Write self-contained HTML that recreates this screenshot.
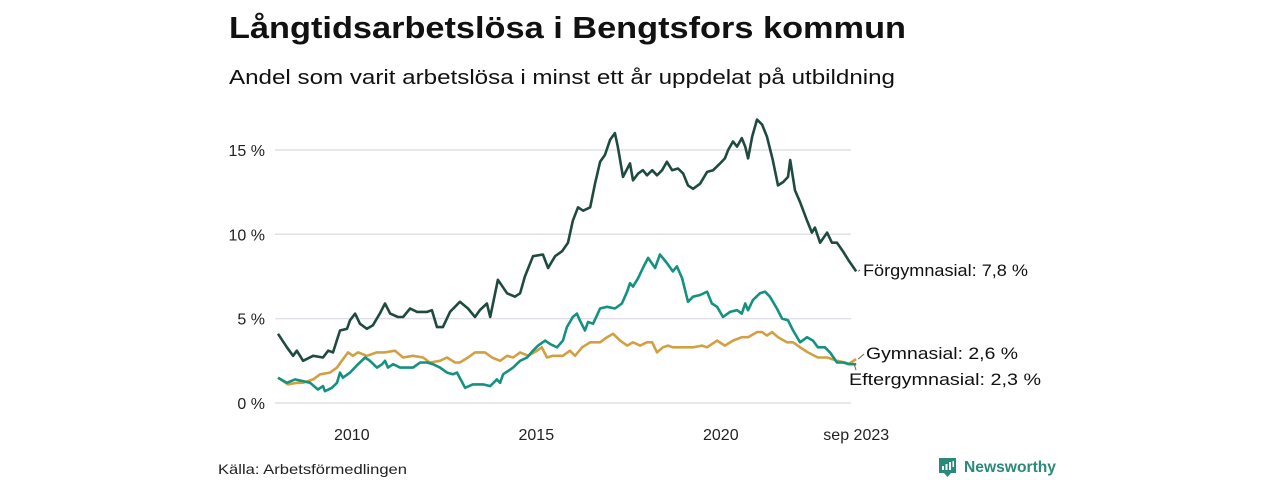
<!DOCTYPE html>
<html><head><meta charset="utf-8"><style>
body{margin:0;background:#fff;font-family:"Liberation Sans","DejaVu Sans",sans-serif;}
#wrap{position:relative;width:1280px;height:480px;overflow:hidden;background:#fff}
</style></head><body>
<div id="wrap">
<svg id="chart" width="1280" height="480">
<text x="229" y="38" font-size="31" font-weight="bold" fill="#111" textLength="677" lengthAdjust="spacingAndGlyphs">Långtidsarbetslösa i Bengtsfors kommun</text>
<text x="229" y="84" font-size="20" fill="#111" textLength="666" lengthAdjust="spacingAndGlyphs">Andel som varit arbetslösa i minst ett år uppdelat på utbildning</text>
<g id="grid"></g><g id="lines"></g><g id="labels"></g>
<text x="218" y="474" font-size="14" fill="#222" textLength="189" lengthAdjust="spacingAndGlyphs">Källa: Arbetsförmedlingen</text>
<g>
<path d="M939 458 h17 v15 h-5 l-3.5 4 l-3.5 -4 h-5 z" fill="#2a8a7a"/>
<rect x="942" y="466" width="2" height="4" fill="#fff"/><rect x="945.5" y="464" width="2" height="6" fill="#fff"/><rect x="949" y="462" width="2" height="8" fill="#fff"/><rect x="952.5" y="461" width="1.5" height="6" fill="#fff"/>
<text x="964" y="472" font-size="16" font-weight="bold" fill="#2a8a7a" textLength="92" lengthAdjust="spacingAndGlyphs">Newsworthy</text>
</g>
</svg>
</div>
<script>
const yTicks=[0,5,10,15];
const yTickLabels=["0 %","5 %","10 %","15 %"];
const xTicks=[2010,2015,2020,2023.67];
const xTickLabels=["2010","2015","2020","sep 2023"];
// years since Jan 2008
const tDark=[0,.24,.41,.51,.68,.95,1.22,1.36,1.49,1.68,1.87,1.95,2.09,2.22,2.41,2.57,2.76,2.90,3.04,3.25,3.39,3.58,3.77,4.04,4.17,4.31,4.47,4.66,4.93,5.15,5.34,5.47,5.66,5.75,5.96,6.21,6.42,6.56,6.69,6.91,7.18,7.32,7.51,7.70,7.86,7.99,8.13,8.27,8.46,8.59,8.73,8.86,9.00,9.13,9.21,9.35,9.54,9.62,9.76,9.89,10.00,10.14,10.27,10.41,10.54,10.68,10.84,10.98,11.11,11.25,11.44,11.63,11.79,11.98,12.11,12.20,12.33,12.44,12.57,12.66,12.74,12.85,12.98,13.12,13.25,13.41,13.55,13.69,13.82,13.88,14.01,14.15,14.34,14.47,14.55,14.69,14.88,15.01,15.15,15.31,15.45,15.67];
const vDark=[4.1,3.3,2.8,3.1,2.5,2.8,2.7,3.1,3.0,4.3,4.4,4.9,5.3,4.7,4.4,4.6,5.3,5.9,5.3,5.1,5.1,5.6,5.4,5.4,5.5,4.5,4.5,5.4,6.0,5.6,5.1,5.5,5.9,5.1,7.3,6.5,6.3,6.5,7.5,8.7,8.8,8.0,8.7,9.0,9.5,10.8,11.6,11.4,11.6,13.0,14.3,14.7,15.6,16.0,15.2,13.4,14.2,13.2,13.6,13.8,13.5,13.8,13.5,13.8,14.3,13.8,13.9,13.6,12.9,12.7,13.0,13.7,13.8,14.2,14.5,15.0,15.5,15.2,15.7,15.2,14.5,15.8,16.8,16.5,15.8,14.4,12.9,13.1,13.4,14.4,12.6,11.9,10.8,10.1,10.4,9.5,10.1,9.5,9.5,9.0,8.5,7.8];
const tTeal=[0,.24,.46,.68,.87,1.08,1.22,1.27,1.46,1.60,1.68,1.76,1.95,2.17,2.36,2.49,2.68,2.82,2.90,2.98,3.12,3.31,3.50,3.66,3.85,4.04,4.20,4.39,4.58,4.74,4.85,5.07,5.28,5.56,5.75,5.93,6.02,6.10,6.37,6.56,6.75,6.91,7.05,7.24,7.37,7.56,7.72,7.83,7.99,8.10,8.18,8.32,8.40,8.54,8.73,8.92,9.13,9.32,9.46,9.54,9.62,9.76,9.89,10.03,10.22,10.35,10.54,10.70,10.81,10.95,11.11,11.25,11.44,11.63,11.76,11.90,12.06,12.25,12.44,12.57,12.66,12.74,12.87,13.06,13.20,13.33,13.52,13.66,13.82,13.96,14.15,14.34,14.50,14.63,14.82,14.96,15.15,15.31,15.50,15.67];
const vTeal=[1.5,1.2,1.4,1.3,1.2,0.8,1.0,0.7,0.9,1.2,1.8,1.5,1.8,2.3,2.7,2.5,2.1,2.3,2.5,2.1,2.3,2.1,2.1,2.1,2.4,2.4,2.3,2.1,1.8,1.7,1.8,0.9,1.1,1.1,1.0,1.4,1.2,1.7,2.1,2.5,2.7,3.1,3.4,3.7,3.5,3.3,3.7,4.5,5.1,5.3,4.9,4.3,4.8,4.7,5.6,5.7,5.6,5.9,6.6,7.1,6.9,7.4,8.0,8.6,8.0,8.8,8.3,7.8,8.1,7.4,6.0,6.3,6.4,6.6,5.9,5.7,5.1,5.4,5.5,5.3,5.9,5.5,6.1,6.5,6.6,6.3,5.6,5.0,4.9,4.3,3.6,3.9,3.7,3.3,3.3,3.0,2.4,2.4,2.3,2.3];
const tGold=[0,.27,.51,.68,.95,1.14,1.41,1.60,1.73,1.90,2.03,2.17,2.41,2.68,2.90,3.17,3.39,3.66,3.93,4.12,4.39,4.58,4.80,4.93,5.15,5.34,5.61,5.80,6.02,6.21,6.37,6.56,6.78,7.02,7.15,7.29,7.45,7.72,7.91,8.05,8.24,8.46,8.73,8.92,9.08,9.27,9.46,9.62,9.81,10.00,10.14,10.27,10.43,10.57,10.70,10.84,10.98,11.25,11.49,11.63,11.90,12.11,12.33,12.57,12.74,12.98,13.12,13.25,13.39,13.55,13.79,13.96,14.15,14.36,14.63,14.88,15.15,15.37,15.45,15.67];
const vGold=[1.5,1.1,1.2,1.2,1.4,1.7,1.8,2.1,2.5,3.0,2.8,3.0,2.8,3.0,3.0,3.1,2.7,2.8,2.7,2.4,2.5,2.7,2.4,2.4,2.7,3.0,3.0,2.7,2.5,2.8,2.7,3.0,2.8,3.1,3.3,2.7,2.8,2.8,3.1,2.8,3.3,3.6,3.6,3.9,4.1,3.7,3.4,3.6,3.4,3.6,3.6,3.0,3.3,3.4,3.3,3.3,3.3,3.3,3.4,3.3,3.7,3.4,3.7,3.9,3.9,4.2,4.2,4.0,4.2,3.9,3.6,3.6,3.3,3.0,2.7,2.7,2.5,2.4,2.3,2.6];

const NS="http://www.w3.org/2000/svg";
const X0=278,PXY=36.9,Y0=403,PXV=16.87;
function xS(t){return X0+t*PXY;}
function xYear(y){return X0+(y-2008)*PXY;}
function yS(v){return Y0-v*PXV;}
function mk(tag,attrs,parent){const e=document.createElementNS(NS,tag);for(const k in attrs)e.setAttribute(k,attrs[k]);parent.appendChild(e);return e;}
const grid=document.getElementById('grid'),lines=document.getElementById('lines'),labels=document.getElementById('labels');
yTicks.forEach((v,i)=>{
  const l=mk('line',{x1:275,x2:851,y1:yS(v),y2:yS(v),stroke:'#e0e0e6','stroke-width':1.5},grid);
  
  
  const t=mk('text',{x:265,y:yS(v)+6,'text-anchor':'end','font-size':16,fill:'#222'},grid);
  t.textContent=yTickLabels[i];
  
  
});
xTicks.forEach((y,i)=>{
  const t=mk('text',{x:xYear(y),y:440,'text-anchor':'middle','font-size':16,fill:'#222'},grid);
  t.textContent=xTickLabels[i];
  
  
});
function drawLine(ts,vs,color,name){
  const d=ts.map((t,i)=>(i?'L':'M')+xS(t).toFixed(1)+' '+yS(vs[i]).toFixed(1)).join(' ');
  const p=mk('path',{d:d,fill:'none',stroke:color,'stroke-width':2.6,'stroke-linejoin':'round'},lines);
  
  
}
drawLine(tGold,vGold,'#d2a043','line-gymnasial');
drawLine(tTeal,vTeal,'#14917f','line-eftergymnasial');
drawLine(tDark,vDark,'#1f4a40','line-forgymnasial');
function lab(txt,x,y,w,lx1,ly1,lx2,ly2,name){
  mk('line',{x1:lx1,y1:ly1,x2:lx2,y2:ly2,stroke:'#666','stroke-width':1},labels);
  const t=mk('text',{x:x,y:y,'font-size':17,fill:'#111',textLength:w,lengthAdjust:'spacingAndGlyphs'},labels);
  t.textContent=txt;
  
  
}
const endT=tDark[tDark.length-1];
lab('Förgymnasial: 7,8 %',863,276,165,xS(endT)+2,yS(vDark[vDark.length-1]),860,270,'label-forgymnasial');
lab('Gymnasial: 2,6 %',866,359,152,xS(endT)+2,yS(vGold[vGold.length-1]),864,354,'label-gymnasial');
lab('Eftergymnasial: 2,3 %',849,385,192,xS(endT)-2,yS(vTeal[vTeal.length-1]),856,370,'label-eftergymnasial');
</script>
</body></html>
